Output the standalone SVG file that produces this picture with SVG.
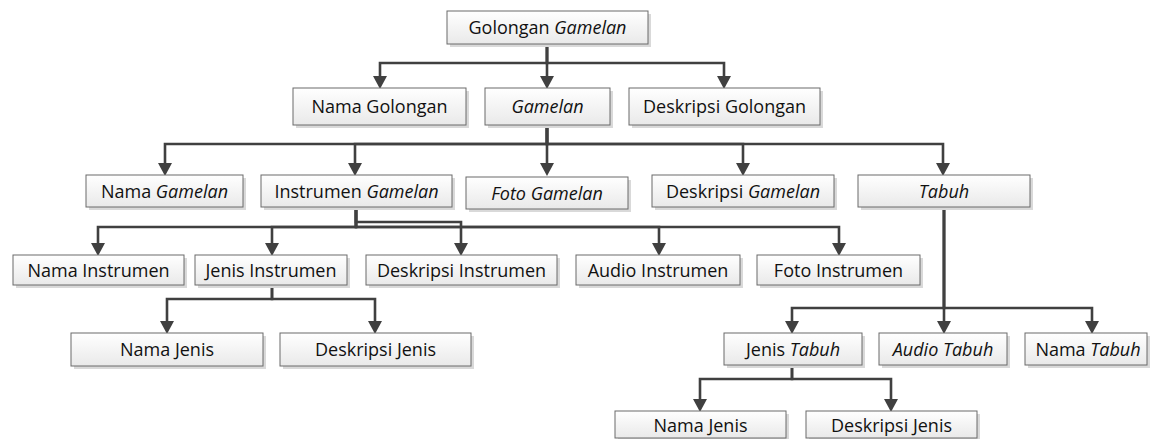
<svg xmlns="http://www.w3.org/2000/svg" width="1151" height="439" viewBox="0 0 1151 439">
<style>
.box{fill:url(#g);stroke:#6a6a6a;stroke-width:1}
.sh{fill:#d9d9d9}
.t{font-family:"Open Sans","Noto Sans",sans-serif;font-size:18px;fill:#111;text-anchor:middle}
.i{font-style:italic}
.c{fill:none;stroke:#404040;stroke-width:2.6;stroke-linejoin:miter}
.a{marker-end:url(#arr)}
</style>
<defs>
<linearGradient id="g" x1="0" y1="0" x2="0" y2="1">
<stop offset="0" stop-color="#ffffff"/>
<stop offset="1" stop-color="#e9e9e9"/>
</linearGradient>
<marker id="arr" markerUnits="userSpaceOnUse" markerWidth="13" markerHeight="14" refX="6" refY="7" orient="auto" viewBox="0 0 13 14">
<path d="M0,0 L13,7 L0,14 z" fill="#404040"/>
</marker>
</defs>
<rect width="1151" height="439" fill="#ffffff"/>
<g id="connectors">
<path class="c a" d="M547,44 V63 H380 V82"/>
<path class="c a" d="M547,44 V82"/>
<path class="c a" d="M547,44 V63 H724 V82"/>
<path class="c a" d="M547,125 V144 H165 V169"/>
<path class="c a" d="M547,125 V144 H355 V169"/>
<path class="c a" d="M547,125 V169"/>
<path class="c a" d="M547,125 V144 H743 V169"/>
<path class="c a" d="M547,125 V144 H943 V169"/>
<path class="c a" d="M356,207 V227 H98 V249"/>
<path class="c a" d="M356,207 V227 H272 V249"/>
<path class="c a" d="M356,207 V222 H461 V249"/>
<path class="c a" d="M356,207 V227 H659 V249"/>
<path class="c a" d="M356,207 V227 H839 V249"/>
<path class="c a" d="M272,285 V299 H167 V327"/>
<path class="c a" d="M272,285 V299 H375 V327"/>
<path class="c a" d="M944,207 V308 H792 V327"/>
<path class="c a" d="M944,207 V327"/>
<path class="c a" d="M944,207 V308 H1092 V327"/>
<path class="c a" d="M792,365 V379 H700 V405"/>
<path class="c a" d="M792,365 V379 H891 V405"/>
</g>
<g id="n1"><rect class="sh" x="450" y="14" width="201" height="33"/><rect class="box" x="447" y="11" width="201" height="33"/><text class="t" x="547.5" y="34">Golongan <tspan class="i">Gamelan</tspan></text></g>
<g id="n2"><rect class="sh" x="296" y="91" width="173" height="37"/><rect class="box" x="293" y="88" width="173" height="37"/><text class="t" x="379.5" y="113">Nama Golongan</text></g>
<g id="n3"><rect class="sh" x="488" y="91" width="125" height="37"/><rect class="box" x="485" y="88" width="125" height="37"/><text class="t i" x="547.5" y="113">Gamelan</text></g>
<g id="n4"><rect class="sh" x="632" y="91" width="191" height="37"/><rect class="box" x="629" y="88" width="191" height="37"/><text class="t" x="724.5" y="113">Deskripsi Golongan</text></g>
<g id="n5"><rect class="sh" x="89" y="178" width="157" height="32"/><rect class="box" x="86" y="175" width="157" height="32"/><text class="t" x="164.5" y="197.5">Nama <tspan class="i">Gamelan</tspan></text></g>
<g id="n6"><rect class="sh" x="264" y="178" width="191" height="32"/><rect class="box" x="261" y="175" width="191" height="32"/><text class="t" x="356.5" y="197.5">Instrumen <tspan class="i">Gamelan</tspan></text></g>
<g id="n7"><rect class="sh" x="469" y="180" width="162" height="32"/><rect class="box" x="466" y="177" width="162" height="32"/><text class="t i" x="547" y="199.5">Foto Gamelan</text></g>
<g id="n8"><rect class="sh" x="655" y="178" width="182" height="32"/><rect class="box" x="652" y="175" width="182" height="32"/><text class="t" x="743" y="197.5">Deskripsi <tspan class="i">Gamelan</tspan></text></g>
<g id="n9"><rect class="sh" x="861" y="178" width="172" height="32"/><rect class="box" x="858" y="175" width="172" height="32"/><text class="t i" x="944" y="197.5">Tabuh</text></g>
<g id="n10"><rect class="sh" x="16" y="258" width="171" height="30"/><rect class="box" x="13" y="255" width="171" height="30"/><text class="t" x="98.5" y="276.5">Nama Instrumen</text></g>
<g id="n11"><rect class="sh" x="198" y="258" width="152" height="30"/><rect class="box" x="195" y="255" width="152" height="30"/><text class="t" x="271" y="276.5">Jenis Instrumen</text></g>
<g id="n12"><rect class="sh" x="369" y="258" width="191" height="30"/><rect class="box" x="366" y="255" width="191" height="30"/><text class="t" x="461.5" y="276.5">Deskripsi Instrumen</text></g>
<g id="n13"><rect class="sh" x="579" y="258" width="164" height="30"/><rect class="box" x="576" y="255" width="164" height="30"/><text class="t" x="658" y="276.5">Audio Instrumen</text></g>
<g id="n14"><rect class="sh" x="760" y="258" width="163" height="30"/><rect class="box" x="757" y="255" width="163" height="30"/><text class="t" x="838.5" y="276.5">Foto Instrumen</text></g>
<g id="n15"><rect class="sh" x="74" y="336" width="192" height="33"/><rect class="box" x="71" y="333" width="192" height="33"/><text class="t" x="167" y="356">Nama Jenis</text></g>
<g id="n16"><rect class="sh" x="283" y="336" width="191" height="33"/><rect class="box" x="280" y="333" width="191" height="33"/><text class="t" x="375.5" y="356">Deskripsi Jenis</text></g>
<g id="n17"><rect class="sh" x="727" y="336" width="138" height="32"/><rect class="box" x="724" y="333" width="138" height="32"/><text class="t" x="793" y="355.5">Jenis <tspan class="i">Tabuh</tspan></text></g>
<g id="n18"><rect class="sh" x="882" y="336" width="128" height="32"/><rect class="box" x="879" y="333" width="128" height="32"/><text class="t i" x="943" y="355.5">Audio Tabuh</text></g>
<g id="n19"><rect class="sh" x="1028" y="336" width="122" height="32"/><rect class="box" x="1025" y="333" width="122" height="32"/><text class="t" x="1088" y="355.5">Nama <tspan class="i">Tabuh</tspan></text></g>
<g id="n20"><rect class="sh" x="618" y="414" width="171" height="27"/><rect class="box" x="615" y="411" width="171" height="27"/><text class="t" x="700.5" y="432">Nama Jenis</text></g>
<g id="n21"><rect class="sh" x="809" y="414" width="171" height="27"/><rect class="box" x="806" y="411" width="171" height="27"/><text class="t" x="891.5" y="432">Deskripsi Jenis</text></g>
</svg>
